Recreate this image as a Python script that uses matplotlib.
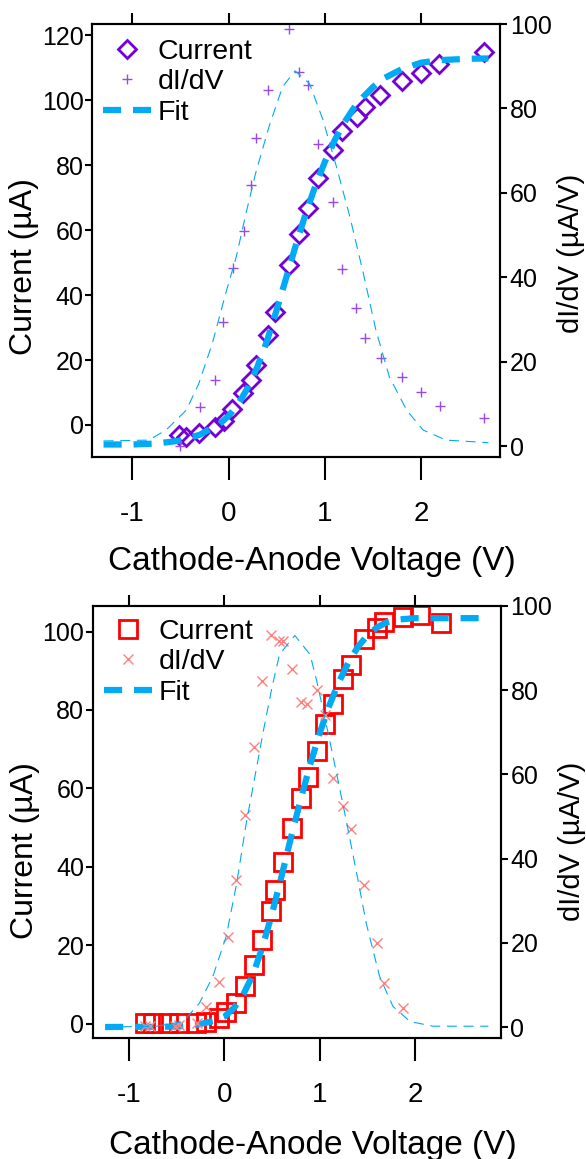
import numpy as np
import matplotlib
matplotlib.use("Agg")
import matplotlib.pyplot as plt

plt.rcParams['font.family'] = ['Liberation Sans', 'DejaVu Sans']

# ---- top panel data ----
top_v = [-0.52, -0.44, -0.31, -0.14, -0.05, 0.04, 0.15, 0.23, 0.28, 0.41, 0.48, 0.63,
         0.73, 0.82, 0.93, 1.08, 1.18, 1.33, 1.42, 1.57, 1.80, 2.00, 2.19, 2.65]
top_current = [-3.1, -3.6, -2.6, -0.5, 1.3, 4.8, 9.9, 13.8, 18.5, 27.7, 34.9, 49.2,
               58.7, 66.9, 75.9, 84.6, 90.5, 94.9, 98.0, 101.7, 105.8, 108.4, 111.0, 114.7]
top_didv_v = [-0.51, -0.30, -0.14, -0.06, 0.05, 0.16, 0.23, 0.28, 0.41, 0.625, 0.73,
              0.82, 0.93, 1.08, 1.18, 1.32, 1.42, 1.58, 1.80, 2.00, 2.20, 2.65]
top_didv = [0.0, 9.2, 15.6, 29.5, 42.1, 51.0, 61.8, 73.1, 84.4, 98.7, 88.7,
            85.5, 71.6, 57.9, 41.9, 32.6, 25.5, 20.8, 16.4, 12.7, 9.5, 6.6]
top_fit_v = [-1.30, -1.0, -0.75, -0.5, -0.3, -0.1, 0.0, 0.1, 0.2, 0.3, 0.4, 0.5, 0.6,
             0.7, 0.8, 0.9, 1.0, 1.1, 1.2, 1.3, 1.4, 1.5, 1.6, 1.8, 2.0, 2.2, 2.5, 2.70]
top_fit = [-6.0, -6.0, -5.7, -4.8, -3.0, 0.2, 2.8, 6.5, 11.5, 18.0, 26.0, 35.5, 45.5,
           55.5, 65.0, 73.5, 81.0, 87.5, 93.0, 97.5, 101.0, 104.0, 106.5, 109.5, 111.5,
           112.3, 112.7, 112.8]
top_gauss_v = [-1.30, -0.83, -0.65, -0.44, -0.31, -0.17, -0.03, 0.08, 0.18, 0.28, 0.42,
               0.56, 0.69, 0.84, 0.98, 1.12, 1.26, 1.40, 1.53, 1.67, 1.85, 2.02, 2.26, 2.70]
top_gauss = [1.2, 1.4, 3.8, 8.5, 14.8, 24.3, 36.2, 44.9, 55.1, 64.6, 75.7,
             85.1, 88.9, 85.9, 77.3, 66.2, 54.3, 40.9, 27.5, 16.4, 8.5, 3.8, 1.4, 0.8]

# ---- bottom panel data ----
bot_v = [-0.83, -0.75, -0.59, -0.47, -0.30, -0.19, -0.06, 0.02, 0.12, 0.22, 0.31, 0.40,
         0.49, 0.53, 0.62, 0.71, 0.81, 0.88, 0.97, 1.06, 1.14, 1.25, 1.33, 1.47, 1.60,
         1.68, 1.87, 2.05, 2.27]
bot_current = [0.25, 0.25, 0.25, 0.25, 0.25, 0.4, 1.5, 3.0, 5.3, 9.6, 15.1, 21.5,
               28.7, 34.0, 41.2, 49.9, 57.6, 62.8, 69.6, 76.5, 81.6, 87.9, 91.5, 98.1, 100.8,
               102.4, 103.6, 104.2, 102.1]
bot_didv_v = [-0.83, -0.78, -0.52, -0.47, -0.29, -0.19, -0.06, 0.035, 0.12, 0.22, 0.31,
              0.40, 0.49, 0.57, 0.62, 0.71, 0.81, 0.87, 0.97, 1.06, 1.14, 1.25, 1.33,
              1.47, 1.60, 1.68, 1.87]
bot_didv = [0.2, 0.2, 0.2, 0.6, 0.9, 4.7, 10.8, 21.5, 35.0, 50.4, 66.4,
            82.3, 93.1, 91.8, 91.6, 85.1, 77.1, 76.8, 80.0, 74.1, 59.1, 52.4, 47.1,
            33.8, 19.9, 10.4, 4.5]
bot_fit_v = [-1.25, -0.5, -0.3, -0.1, 0.0, 0.1, 0.2, 0.3, 0.4, 0.5, 0.6, 0.7, 0.8, 0.9,
             1.0, 1.1, 1.2, 1.3, 1.4, 1.5, 1.6, 1.7, 1.8, 2.0, 2.77]
bot_fit = [-0.8, -0.7, -0.3, 0.8, 1.8, 4.0, 7.5, 12.5, 19.5, 28.0, 37.5, 47.5, 57.0, 66.0,
           74.0, 81.0, 87.0, 92.0, 96.0, 99.0, 101.0, 102.3, 103.0, 103.4, 103.4]
bot_gauss_v = [-1.25, -0.71, -0.43, -0.26, -0.12, 0.02, 0.13, 0.23, 0.32, 0.41, 0.50,
               0.58, 0.74, 0.90, 0.97, 1.07, 1.18, 1.28, 1.39, 1.49, 1.63, 1.77, 1.95,
               2.19, 2.77]
bot_gauss = [0.0, 0.2, 1.3, 5.7, 12.0, 21.5, 34.1, 48.3, 59.3, 70.3, 80.6,
             88.5, 93.0, 88.5, 82.2, 71.9, 60.1, 49.0, 36.4, 24.6, 12.0, 4.9, 1.3,
             0.2, 0.2]

xticks = [-1, 0, 1, 2]
fit_blue = '#00AAF5'

fig = plt.figure(figsize=(5.86, 11.59), dpi=100)


def make_panel(rect, v, cur, dv, didv, fv, fit, gv, gauss,
               cur_marker, cur_color, cur_ms, d_marker, d_color, d_ms,
               xlim, ylim_l, ylim_r, yticks_l, ylab_l, ylab_r, xlab_y, leg_y):
    ax = fig.add_axes(rect)
    ax2 = ax.twinx()
    h1, = ax.plot(v, cur, linestyle='none', marker=cur_marker, ms=cur_ms,
                  mfc='none', mec=cur_color, mew=2.0, label='Current', zorder=3)
    h3, = ax.plot(fv, fit, color=fit_blue, lw=4.5, dashes=(2.9, 1.9),
                  label='Fit', zorder=4)
    h2, = ax2.plot(dv, didv, linestyle='none', marker=d_marker, ms=d_ms,
                   color=d_color, mew=1.0, label='dI/dV')
    ax2.plot(gv, gauss, color=fit_blue, lw=0.8, dashes=(9, 6))

    ax.set_xlim(*xlim)
    ax.set_ylim(*ylim_l)
    ax2.set_ylim(*ylim_r)
    ax.set_xticks(xticks)
    ax.set_xticklabels([str(t) for t in xticks])
    ax.set_yticks(yticks_l)
    ax2.set_yticks([0, 20, 40, 60, 80, 100])

    for a in (ax, ax2):
        for s in a.spines.values():
            s.set_linewidth(1.5)
    ax.tick_params(axis='x', which='major', direction='out', length=16.5, width=1.5,
                   labelsize=20, pad=15, top=True, labeltop=False)
    ax.tick_params(axis='y', direction='out', length=5, width=1.5, labelsize=18, pad=1)
    ax2.tick_params(axis='y', direction='out', length=5, width=1.5, labelsize=18, pad=2)
    # shorter ticks on the top edge
    for t in ax.xaxis.get_major_ticks():
        t.tick2line.set_markersize(8)

    ax.set_xlabel('Cathode-Anode Voltage (V)', fontsize=24)
    ax.xaxis.set_label_coords(0.54, xlab_y)
    ax.set_ylabel(ylab_l[0], fontsize=23)
    ax.yaxis.set_label_coords(-0.13, ylab_l[1])
    ax2.set_ylabel(ylab_r[0], fontsize=21)
    ax2.yaxis.set_label_coords(ylab_r[2], ylab_r[1])

    ax2.legend([h1, h2, h3], ['Current', 'dI/dV', 'Fit'], loc='upper left',
               bbox_to_anchor=(0.027, leg_y), frameon=False, fontsize=20.5,
               numpoints=1, handlelength=1.7, handletextpad=0.22, borderpad=0.0,
               borderaxespad=0.0, labelspacing=0.15)
    return ax, ax2


make_panel([92 / 586, 1 - 457 / 1159, 408 / 586, 433 / 1159],
           top_v, top_current, top_didv_v, top_didv, top_fit_v, top_fit,
           top_gauss_v, top_gauss,
           'D', '#7400D6', 9.2, '+', '#9A48EA', 7,
           (-1.42, 2.82), (-9.85, 123.4), (-2.6, 100), [0, 20, 40, 60, 80, 100, 120],
           ('Current (µA)', 0.44), ('dI/dV (µA/V)', 0.47, 1.1385), -0.205, 0.965)

make_panel([92.7 / 586, 1 - 1038 / 1159, 408 / 586, 432 / 1159],
           bot_v, bot_current, bot_didv_v, bot_didv, bot_fit_v, bot_fit,
           bot_gauss_v, bot_gauss,
           's', '#FF0000', 13, 'x', '#FF8080', 6.5,
           (-1.38, 2.90), (-3.6, 106.5), (-2.6, 99.8), [0, 20, 40, 60, 80, 100],
           ('Current (µA)', 0.433), ('dI/dV (µA/V)', 0.456, 1.14), -0.213, 0.97)

fig.savefig('out.png', dpi=100)
